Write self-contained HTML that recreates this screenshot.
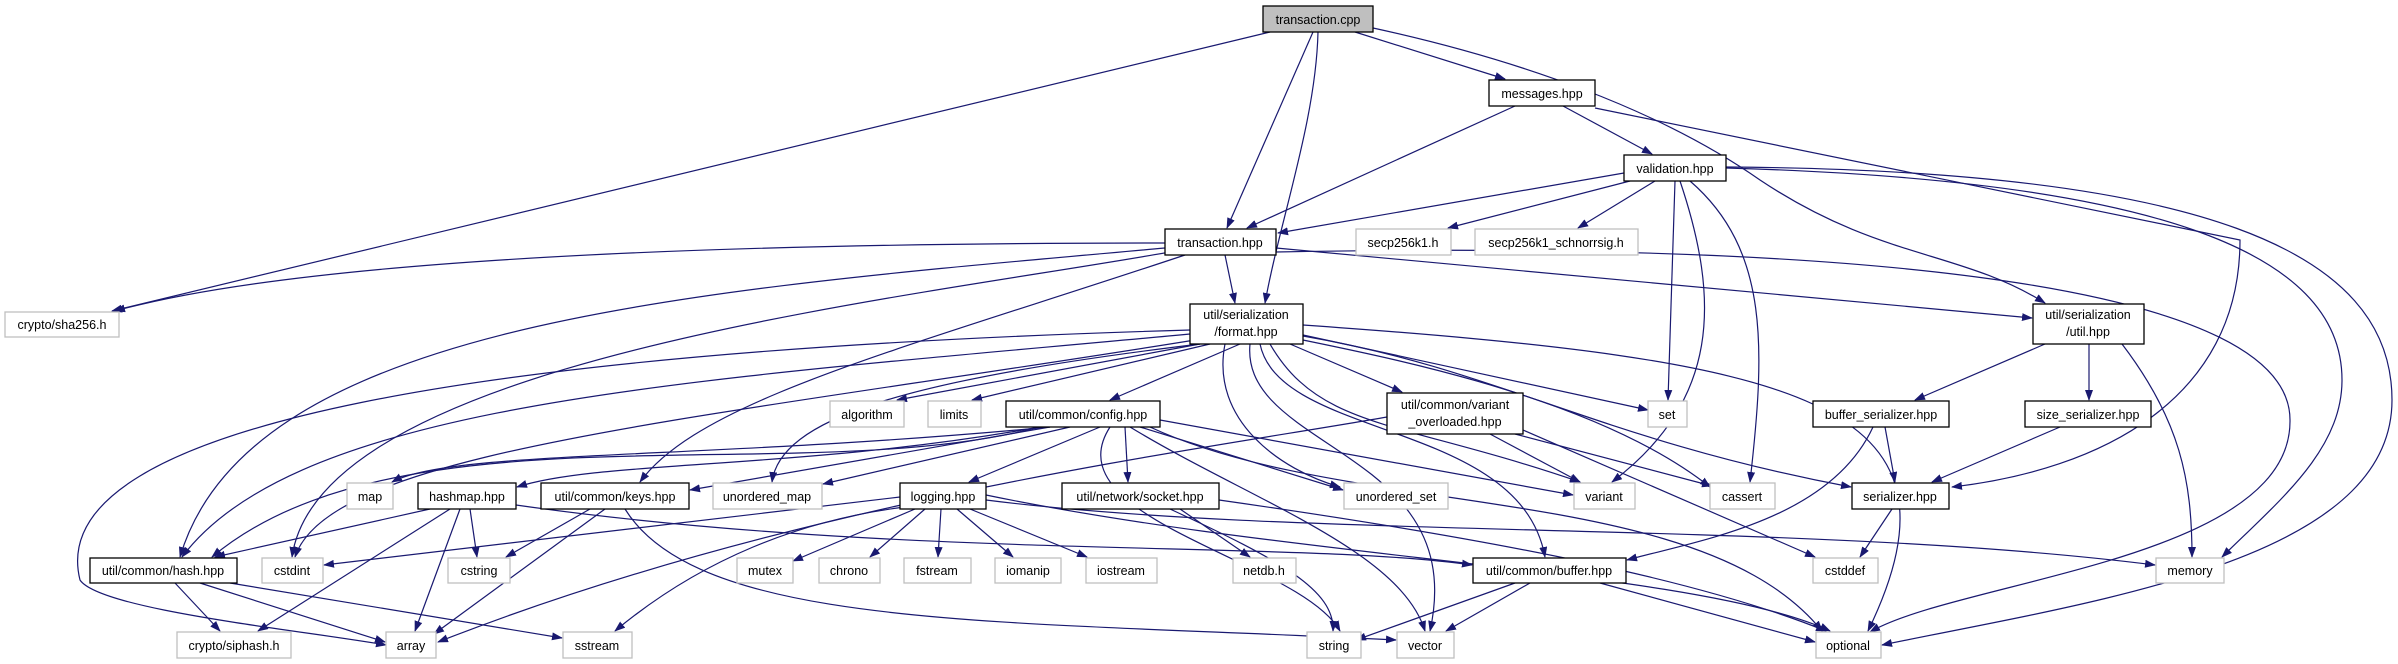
<!DOCTYPE html>
<html><head><meta charset="utf-8"><style>
html,body{margin:0;padding:0;background:#fff;}
svg{display:block;}
text{font-family:"Liberation Sans",sans-serif;font-size:12.5px;fill:#000;text-anchor:middle;}
.e{fill:none;stroke:#191970;stroke-width:1.2;marker-end:url(#a);}
.n{fill:#fff;stroke:#000;stroke-width:1.3;}
.g{fill:#fff;stroke:#bfbfbf;stroke-width:1.3;}
</style></head><body>
<svg width="2398" height="664" viewBox="0 0 2398 664" xmlns="http://www.w3.org/2000/svg">
<defs><marker id="a" markerWidth="11" markerHeight="8" refX="10" refY="4" orient="auto" markerUnits="userSpaceOnUse"><path d="M0,0 L11,4 L0,8 z" fill="#191970"/></marker></defs>
<g>
<path class="e" d="M1270,32 L112,311"/>
<path class="e" d="M1313,32 L1227,228"/>
<path class="e" d="M1318,32 C1316,120 1280,220 1265,303"/>
<path class="e" d="M1355,32 L1505,79"/>
<path class="e" d="M1373,28 C1520,60 1660,110 1760,180 C1880,260 1960,250 2045,303"/>
<path class="e" d="M1515,106 L1247,228"/>
<path class="e" d="M1563,106 L1652,154"/>
<path class="e" d="M1595,108 L2240,240 C2240,400 2100,470 1952,487"/>
<path class="e" d="M1624,173 L1278,233"/>
<path class="e" d="M1630,181 L1448,228"/>
<path class="e" d="M1655,181 L1578,228"/>
<path class="e" d="M1675,181 L1668,400"/>
<path class="e" d="M1680,181 C1720,300 1720,400 1612,482"/>
<path class="e" d="M1690,181 C1770,250 1765,350 1750,482"/>
<path class="e" d="M1726,168 C2150,180 2342,250 2342,380 C2342,450 2280,500 2222,557"/>
<path class="e" d="M1726,167 C2200,170 2392,250 2392,400 C2392,560 2100,600 1882,645"/>
<path class="e" d="M1165,243 C700,243 300,260 115,311"/>
<path class="e" d="M1225,255 L1235,303"/>
<path class="e" d="M1276,248 L2032,318"/>
<path class="e" d="M1165,248 C700,290 250,320 180,557"/>
<path class="e" d="M1170,252 C900,300 320,360 292,557"/>
<path class="e" d="M1185,255 C900,350 700,400 640,482"/>
<path class="e" d="M1276,252 C1900,240 2290,290 2290,420 C2292,560 1960,580 1870,632"/>
<path class="e" d="M1190,330 C500,350 40,420 80,580 C100,610 300,630 386,645"/>
<path class="e" d="M1190,334 C700,380 300,400 182,557"/>
<path class="e" d="M1195,340 C700,420 330,450 295,557"/>
<path class="e" d="M1200,344 C900,380 780,420 772,482"/>
<path class="e" d="M1200,344 L897,400"/>
<path class="e" d="M1210,344 L972,400"/>
<path class="e" d="M1240,344 L1110,400"/>
<path class="e" d="M1290,344 L1402,392"/>
<path class="e" d="M1303,335 L1648,410"/>
<path class="e" d="M1303,340 C1400,360 1600,400 1710,487"/>
<path class="e" d="M1303,336 C1500,370 1600,440 1851,487"/>
<path class="e" d="M1303,325 C1800,360 1980,400 1868,631"/>
<path class="e" d="M1225,344 C1210,420 1280,470 1340,487"/>
<path class="e" d="M1270,344 C1320,430 1400,420 1580,482"/>
<path class="e" d="M1260,344 C1280,440 1520,420 1545,557"/>
<path class="e" d="M1250,344 C1240,450 1470,450 1430,631"/>
<path class="e" d="M1050,427 C700,460 450,450 392,482"/>
<path class="e" d="M1040,427 C800,470 600,460 517,487"/>
<path class="e" d="M1050,427 L690,490"/>
<path class="e" d="M1070,427 L823,484"/>
<path class="e" d="M1040,427 C800,490 400,400 212,557"/>
<path class="e" d="M1100,427 L969,482"/>
<path class="e" d="M1125,427 L1128,482"/>
<path class="e" d="M1160,420 L1573,495"/>
<path class="e" d="M1140,427 L1343,490"/>
<path class="e" d="M1110,427 C1050,520 1300,560 1340,631"/>
<path class="e" d="M1130,427 C1250,500 1400,550 1425,631"/>
<path class="e" d="M1150,427 C1350,520 1700,480 1822,631"/>
<path class="e" d="M1387,417 C1200,450 800,500 438,642"/>
<path class="e" d="M1490,434 L1580,482"/>
<path class="e" d="M1515,434 L1712,486"/>
<path class="e" d="M1523,430 L1815,557"/>
<path class="e" d="M905,507 C800,520 700,560 615,631"/>
<path class="e" d="M430,509 L215,557"/>
<path class="e" d="M450,509 L258,631"/>
<path class="e" d="M460,509 L415,631"/>
<path class="e" d="M470,509 L477,557"/>
<path class="e" d="M516,505 C900,560 1300,540 1472,565"/>
<path class="e" d="M590,509 L506,557"/>
<path class="e" d="M605,509 L434,634"/>
<path class="e" d="M625,509 C700,630 1000,620 1396,640"/>
<path class="e" d="M900,497 L324,565"/>
<path class="e" d="M915,509 L793,561"/>
<path class="e" d="M925,509 L870,557"/>
<path class="e" d="M941,509 L938,557"/>
<path class="e" d="M957,509 L1013,557"/>
<path class="e" d="M970,509 L1087,557"/>
<path class="e" d="M986,500 C1300,540 1800,520 2155,565"/>
<path class="e" d="M986,495 C1300,560 1700,570 1830,631"/>
<path class="e" d="M1180,509 L1250,557"/>
<path class="e" d="M1170,509 C1280,560 1335,590 1333,631"/>
<path class="e" d="M1219,500 C1500,540 1700,580 1826,631"/>
<path class="e" d="M175,583 L220,631"/>
<path class="e" d="M200,583 L385,642"/>
<path class="e" d="M230,583 L562,638"/>
<path class="e" d="M1885,427 L1895,482"/>
<path class="e" d="M1873,427 C1830,520 1700,540 1627,560"/>
<path class="e" d="M2060,427 L1932,482"/>
<path class="e" d="M2045,344 L1915,400"/>
<path class="e" d="M2089,344 L2089,400"/>
<path class="e" d="M2122,344 C2180,420 2192,480 2192,557"/>
<path class="e" d="M1892,509 L1860,557"/>
<path class="e" d="M1515,583 L1356,640"/>
<path class="e" d="M1530,583 L1446,631"/>
<path class="e" d="M1600,583 L1815,642"/>
</g>
<g>
<rect x="1263" y="6" width="110" height="26" fill="#bfbfbf" stroke="#000" stroke-width="1.3"/><text x="1318" y="24">transaction.cpp</text>
<rect class="n" x="1489" y="80" width="106" height="26"/><text x="1542" y="98">messages.hpp</text>
<rect class="n" x="1624" y="155" width="102" height="26"/><text x="1675" y="173">validation.hpp</text>
<rect class="n" x="1165" y="229" width="111" height="26"/><text x="1220" y="247">transaction.hpp</text>
<rect class="g" x="1356" y="229" width="95" height="26"/><text x="1403" y="247">secp256k1.h</text>
<rect class="g" x="1475" y="229" width="163" height="26"/><text x="1556" y="247">secp256k1_schnorrsig.h</text>
<rect class="g" x="5" y="312" width="114" height="25"/><text x="62" y="329">crypto/sha256.h</text>
<rect class="n" x="1190" y="304" width="113" height="40"/><text x="1246" y="319">util/serialization</text><text x="1246" y="336">/format.hpp</text>
<rect class="n" x="2033" y="304" width="111" height="40"/><text x="2088" y="319">util/serialization</text><text x="2088" y="336">/util.hpp</text>
<rect class="g" x="830" y="401" width="74" height="26"/><text x="867" y="419">algorithm</text>
<rect class="g" x="928" y="401" width="53" height="26"/><text x="954" y="419">limits</text>
<rect class="n" x="1006" y="401" width="154" height="26"/><text x="1083" y="419">util/common/config.hpp</text>
<rect class="n" x="1387" y="393" width="136" height="41"/><text x="1455" y="409">util/common/variant</text><text x="1455" y="426">_overloaded.hpp</text>
<rect class="g" x="1648" y="401" width="39" height="26"/><text x="1667" y="419">set</text>
<rect class="n" x="1813" y="401" width="136" height="26"/><text x="1881" y="419">buffer_serializer.hpp</text>
<rect class="n" x="2025" y="401" width="126" height="26"/><text x="2088" y="419">size_serializer.hpp</text>
<rect class="g" x="347" y="483" width="46" height="26"/><text x="370" y="501">map</text>
<rect class="n" x="418" y="483" width="98" height="26"/><text x="467" y="501">hashmap.hpp</text>
<rect class="n" x="541" y="483" width="148" height="26"/><text x="615" y="501">util/common/keys.hpp</text>
<rect class="g" x="713" y="483" width="109" height="26"/><text x="767" y="501">unordered_map</text>
<rect class="n" x="900" y="483" width="86" height="26"/><text x="943" y="501">logging.hpp</text>
<rect class="n" x="1062" y="483" width="157" height="26"/><text x="1140" y="501">util/network/socket.hpp</text>
<rect class="g" x="1344" y="483" width="104" height="26"/><text x="1396" y="501">unordered_set</text>
<rect class="g" x="1574" y="483" width="61" height="26"/><text x="1604" y="501">variant</text>
<rect class="g" x="1710" y="483" width="65" height="26"/><text x="1742" y="501">cassert</text>
<rect class="n" x="1852" y="483" width="97" height="26"/><text x="1900" y="501">serializer.hpp</text>
<rect class="n" x="90" y="558" width="147" height="25"/><text x="163" y="575">util/common/hash.hpp</text>
<rect class="g" x="262" y="558" width="61" height="25"/><text x="292" y="575">cstdint</text>
<rect class="g" x="448" y="558" width="62" height="25"/><text x="479" y="575">cstring</text>
<rect class="g" x="737" y="558" width="56" height="25"/><text x="765" y="575">mutex</text>
<rect class="g" x="819" y="558" width="61" height="25"/><text x="849" y="575">chrono</text>
<rect class="g" x="904" y="558" width="67" height="25"/><text x="937" y="575">fstream</text>
<rect class="g" x="995" y="558" width="66" height="25"/><text x="1028" y="575">iomanip</text>
<rect class="g" x="1086" y="558" width="71" height="25"/><text x="1121" y="575">iostream</text>
<rect class="g" x="1233" y="558" width="63" height="25"/><text x="1264" y="575">netdb.h</text>
<rect class="n" x="1473" y="558" width="153" height="25"/><text x="1549" y="575">util/common/buffer.hpp</text>
<rect class="g" x="1813" y="558" width="65" height="25"/><text x="1845" y="575">cstddef</text>
<rect class="g" x="2156" y="558" width="68" height="25"/><text x="2190" y="575">memory</text>
<rect class="g" x="177" y="632" width="114" height="26"/><text x="234" y="650">crypto/siphash.h</text>
<rect class="g" x="386" y="632" width="50" height="26"/><text x="411" y="650">array</text>
<rect class="g" x="563" y="632" width="69" height="26"/><text x="597" y="650">sstream</text>
<rect class="g" x="1307" y="632" width="54" height="26"/><text x="1334" y="650">string</text>
<rect class="g" x="1397" y="632" width="57" height="26"/><text x="1425" y="650">vector</text>
<rect class="g" x="1816" y="632" width="65" height="26"/><text x="1848" y="650">optional</text>
</g>
</svg>
</body></html>
